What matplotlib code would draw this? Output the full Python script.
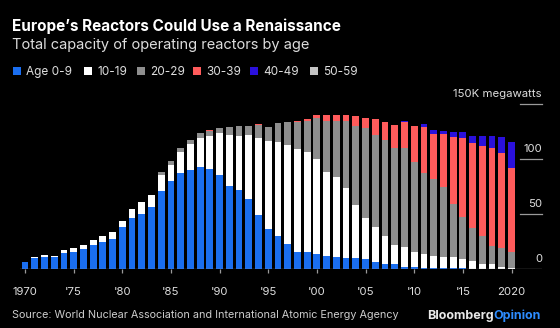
import matplotlib
matplotlib.use("Agg")
import matplotlib.pyplot as plt
from matplotlib.patches import Rectangle

plt.rcParams["font.family"] = ["Inter", "DejaVu Sans"]

years = list(range(1970, 2021))

# Operating capacity by reactor age, thousand megawatts
age_0_9 = [6.9, 10.3, 11.4, 10.9, 14.8, 15.7, 18.1, 21.7, 25.0, 27.2,
           38.0, 46.2, 49.8, 56.2, 70.9, 79.7, 87.5, 90.2, 92.9, 90.6,
           85.1, 75.7, 71.8, 63.4, 48.9, 36.8, 29.9, 22.9, 15.4, 15.4,
           13.9, 11.8, 10.9, 10.0, 10.0, 9.0, 6.9, 4.8, 4.5, 2.4,
           2.1, 1.5, 1.0, 1.0, 1.0, 0.8, 0.5, 0.3, 0.2, 0.0, 0.0]
age_10_19 = [0.0, 0.5, 1.6, 1.4, 2.4, 3.6, 3.6, 5.1, 5.4, 6.6,
             6.0, 8.4, 10.9, 11.4, 14.2, 14.8, 19.0, 23.0, 25.8, 30.4,
             38.6, 46.2, 49.2, 58.2, 69.8, 79.4, 85.4, 89.4, 93.8, 91.1,
             86.0, 76.3, 72.4, 63.9, 48.5, 37.7, 31.4, 25.6, 17.2, 18.1,
             13.9, 12.4, 11.2, 10.4, 9.9, 8.8, 7.0, 4.3, 4.3, 2.4, 1.5]
age_20_29 = [0.0, 0.0, 0.0, 0.0, 0.0, 0.0, 0.0, 0.0, 0.0, 0.0,
             0.0, 0.0, 0.0, 0.0, 2.8, 3.3, 3.6, 4.2, 4.8, 4.3,
             4.3, 7.3, 8.8, 8.2, 12.0, 12.4, 17.5, 21.1, 24.5, 28.1,
             37.1, 46.5, 50.7, 60.1, 71.3, 81.3, 83.3, 87.0, 88.4, 89.1,
             81.0, 73.3, 69.3, 63.4, 48.2, 37.6, 30.3, 25.7, 16.9, 17.2, 14.5]
age_30_39 = [0.0, 0.0, 0.0, 0.0, 0.0, 0.0, 0.0, 0.0, 0.0, 0.0,
             0.0, 0.0, 0.0, 0.0, 0.0, 0.0, 0.0, 0.0, 0.0, 1.2,
             0.3, 0.0, 0.0, 0.0, 1.1, 0.0, 0.0, 0.0, 0.9, 1.8,
             2.5, 4.9, 5.5, 6.0, 9.3, 9.3, 14.3, 16.3, 20.6, 23.8,
             32.8, 42.0, 41.1, 47.5, 60.5, 71.6, 76.3, 81.5, 88.2, 86.0, 75.5]
age_40_49 = [0.0] * 36 + [0.5, 0.0, 0.0, 0.7,
                          0.0, 2.8, 3.4, 2.8, 4.7, 5.4, 6.5, 8.8, 11.4, 13.8, 23.5]
age_50_59 = [0.0] * 51

series_labels = ["Age 0-9", "10-19", "20-29", "30-39", "40-49", "50-59"]
series_values = [age_0_9, age_10_19, age_20_29, age_30_39, age_40_49, age_50_59]
series_colors = ["#1a6ef0", "#ffffff", "#8e8e8e", "#ff5b5b", "#2a10dc", "#c4c4c4"]

tick_years = [1970, 1975, 1980, 1985, 1990, 1995, 2000, 2005, 2010, 2015, 2020]
tick_labels = ["1970", "'75", "'80", "'85", "'90", "'95", "'00", "'05", "'10", "'15", "2020"]
y_ticks = [0, 50, 100, 150]
y_labels = ["0", "50", "100", "150K megawatts"]

BG = "black"
W, H = 560, 328

fig = plt.figure(figsize=(W / 100, H / 100), dpi=100, facecolor=BG)

# chart area, in pixel bounds of the figure
x0, x1, y_base, y_top = 20, 542, 269.3, 103.7
ax = fig.add_axes([x0 / W, 1 - y_base / H, (x1 - x0) / W, (y_base - y_top) / H])
ax.set_facecolor(BG)

bottom = [0.0] * len(years)
for vals, color in zip(series_values, series_colors):
    ax.bar(years, vals, bottom=bottom, width=0.7, color=color, linewidth=0)
    bottom = [b + v for b, v in zip(bottom, vals)]

px_per_year = 9.73
xmin = 1970 - (25 - x0) / px_per_year
xmax = 1970 + (x1 - 25) / px_per_year
ax.set_xlim(xmin, xmax)
ax.set_ylim(0, 150)

for s in ax.spines.values():
    s.set_visible(False)
ax.axhline(0, color="#9a9a9a", linewidth=0.9)
ax.set_xticks(tick_years)
ax.set_xticklabels(tick_labels)
ax.tick_params(axis="x", colors="#9a9a9a", length=3, width=0.9, pad=10,
               labelcolor="#dddddd", labelsize=8.2)
ax.set_yticks([])

# short gridlines on the right with value labels above
grid_start = 1970 + (520 - 25) / px_per_year
for yv, lab in zip(y_ticks, y_labels):
    if yv > 0:
        ax.plot([grid_start, xmax], [yv, yv], color="#9a9a9a", linewidth=0.9,
                clip_on=False)
    ax.text(xmax, yv + 6.3, lab, color="#dddddd", fontsize=8.2, ha="right",
            va="baseline")

# overlay in pixel coordinates for titles, legend and footer
ov = fig.add_axes([0, 0, 1, 1], facecolor="none")
ov.set_xlim(0, W)
ov.set_ylim(H, 0)
ov.axis("off")

ov.text(12, 31, "Europe\u2019s Reactors Could Use a Renaissance", color="white",
        fontsize=11, fontweight="bold", va="baseline")
ov.text(12, 49, "Total capacity of operating reactors by age", color="#dddddd",
        fontsize=10.5, va="baseline")

box_x = [13, 84, 137, 193, 250, 310]
for bx, lab, color in zip(box_x, series_labels, series_colors):
    ov.add_patch(Rectangle((bx, 67), 8, 8, color=color, linewidth=0))
    ov.text(bx + 13, 75, lab, color="#dddddd", fontsize=8.5, va="baseline")

ov.text(12, 318.5, "Source: World Nuclear Association and International Atomic Energy Agency",
        color="#cccccc", fontsize=7.8, va="baseline")
t = ov.text(427, 319, "Bloomberg", color="#e8e8e8", fontsize=9,
            fontweight="bold", va="baseline")
fig.canvas.draw()
bb = t.get_window_extent()
ov.text(427 + bb.width, 319, "Opinion", color="#2d8cff", fontsize=9,
        fontweight="bold", va="baseline")

fig.savefig("out.png", dpi=100, facecolor=BG)
